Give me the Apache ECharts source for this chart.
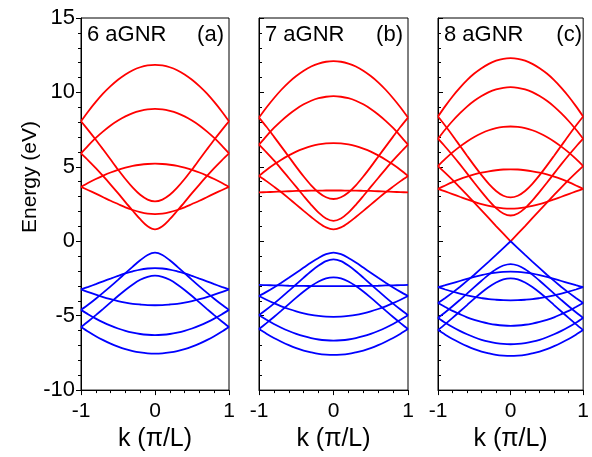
<!DOCTYPE html>
<html>
<head>
<meta charset="utf-8">
<script src="https://cdn.jsdelivr.net/npm/echarts@6/dist/echarts.min.js"></script>
<style>html,body{margin:0;padding:0;background:#fff;}#c{width:592px;height:457px;}</style>
</head>
<body>
<div id="c"></div>
<script>
// sample points along k (units of pi/L)
const K = [-1,-0.9,-0.8,-0.7,-0.6,-0.5,-0.4,-0.3,-0.2,-0.1,0,0.1,0.2,0.3,0.4,0.5,0.6,0.7,0.8,0.9,1];
const xTickLabels = [-1, 0, 1];
const yTickLabels = [-10, -5, 0, 5, 10, 15];
const panelNames = ['6 aGNR', '7 aGNR', '8 aGNR'];
const panelTags = ['(a)', '(b)', '(c)'];
const xName = 'k (\u03c0/L)';
const yName = 'Energy (eV)';

// (a) 6 aGNR
const aR1 = [8.06,8.74,9.36,9.93,10.42,10.85,11.21,11.49,11.69,11.81,11.85,11.81,11.69,11.49,11.21,10.85,10.42,9.93,9.36,8.74,8.06];
const aR2 = [5.90,6.44,6.94,7.38,7.78,8.11,8.39,8.61,8.76,8.86,8.89,8.86,8.76,8.61,8.39,8.11,7.78,7.38,6.94,6.44,5.90];
const aR3 = [3.65,3.93,4.18,4.41,4.62,4.80,4.94,5.06,5.14,5.19,5.21,5.19,5.14,5.06,4.94,4.80,4.62,4.41,4.18,3.93,3.65];
const aR4 = [3.65,3.43,3.20,2.96,2.72,2.50,2.28,2.10,1.95,1.85,1.82,1.85,1.95,2.10,2.28,2.50,2.72,2.96,3.20,3.43,3.65];
const aR5 = [5.90,5.42,4.91,4.37,3.81,3.23,2.63,2.05,1.48,1.01,0.80,1.01,1.48,2.05,2.63,3.23,3.81,4.37,4.91,5.42,5.90];
const aR6 = [8.06,7.45,6.82,6.16,5.49,4.82,4.18,3.60,3.12,2.80,2.68,2.80,3.12,3.60,4.18,4.82,5.49,6.16,6.82,7.45,8.06];
const aB1 = [-5.76,-6.08,-6.38,-6.64,-6.88,-7.08,-7.25,-7.38,-7.47,-7.53,-7.55,-7.53,-7.47,-7.38,-7.25,-7.08,-6.88,-6.64,-6.38,-6.08,-5.76];
const aB2 = [-4.61,-4.92,-5.20,-5.45,-5.67,-5.86,-6.02,-6.14,-6.23,-6.28,-6.30,-6.28,-6.23,-6.14,-6.02,-5.86,-5.67,-5.45,-5.20,-4.92,-4.61];
const aB3 = [-3.23,-3.42,-3.59,-3.75,-3.89,-4.02,-4.12,-4.20,-4.25,-4.29,-4.30,-4.29,-4.25,-4.20,-4.12,-4.02,-3.89,-3.75,-3.59,-3.42,-3.23];
const aB4 = [-3.23,-3.06,-2.88,-2.69,-2.51,-2.33,-2.16,-2.02,-1.90,-1.83,-1.80,-1.83,-1.90,-2.02,-2.16,-2.33,-2.51,-2.69,-2.88,-3.06,-3.23];
const aB5 = [-4.61,-4.25,-3.86,-3.45,-3.03,-2.59,-2.14,-1.70,-1.28,-0.92,-0.76,-0.92,-1.28,-1.70,-2.14,-2.59,-3.03,-3.45,-3.86,-4.25,-4.61];
const aB6 = [-5.76,-5.37,-4.96,-4.54,-4.11,-3.68,-3.27,-2.90,-2.59,-2.39,-2.31,-2.39,-2.59,-2.90,-3.27,-3.68,-4.11,-4.54,-4.96,-5.37,-5.76];

// (b) 7 aGNR
const bR1 = [8.31,8.99,9.61,10.18,10.68,11.10,11.46,11.74,11.94,12.06,12.10,12.06,11.94,11.74,11.46,11.10,10.68,10.18,9.61,8.99,8.31];
const bR2 = [6.49,7.07,7.61,8.09,8.52,8.89,9.20,9.44,9.61,9.71,9.75,9.71,9.61,9.44,9.20,8.89,8.52,8.09,7.61,7.07,6.49];
const bR3 = [4.39,4.79,5.15,5.48,5.77,6.02,6.22,6.39,6.51,6.58,6.60,6.58,6.51,6.39,6.22,6.02,5.77,5.48,5.15,4.79,4.39];
const bR4 = [3.28,3.30,3.32,3.34,3.36,3.38,3.39,3.40,3.40,3.41,3.41,3.41,3.40,3.40,3.39,3.38,3.36,3.34,3.32,3.30,3.28];
const bR5 = [4.39,4.04,3.67,3.29,2.88,2.46,2.04,1.63,1.24,0.93,0.80,0.93,1.24,1.63,2.04,2.46,2.88,3.29,3.67,4.04,4.39];
const bR6 = [6.49,5.97,5.43,4.85,4.25,3.65,3.04,2.45,1.92,1.53,1.37,1.53,1.92,2.45,3.04,3.65,4.25,4.85,5.43,5.97,6.49];
const bR7 = [8.31,7.69,7.03,6.36,5.68,5.00,4.35,3.76,3.28,2.96,2.84,2.96,3.28,3.76,4.35,5.00,5.68,6.36,7.03,7.69,8.31];
const bB1 = [-5.90,-6.21,-6.50,-6.75,-6.98,-7.18,-7.34,-7.46,-7.56,-7.61,-7.63,-7.61,-7.56,-7.46,-7.34,-7.18,-6.98,-6.75,-6.50,-6.21,-5.90];
const bB2 = [-4.97,-5.27,-5.56,-5.81,-6.03,-6.22,-6.38,-6.51,-6.60,-6.65,-6.67,-6.65,-6.60,-6.51,-6.38,-6.22,-6.03,-5.81,-5.56,-5.27,-4.97];
const bB3 = [-3.68,-3.93,-4.16,-4.37,-4.55,-4.71,-4.84,-4.95,-5.02,-5.07,-5.08,-5.07,-5.02,-4.95,-4.84,-4.71,-4.55,-4.37,-4.16,-3.93,-3.68];
const bB4 = [-2.93,-2.95,-2.96,-2.97,-2.99,-3.00,-3.00,-3.01,-3.02,-3.02,-3.02,-3.02,-3.02,-3.01,-3.00,-3.00,-2.99,-2.97,-2.96,-2.95,-2.93];
const bB5 = [-3.68,-3.40,-3.10,-2.78,-2.45,-2.11,-1.77,-1.43,-1.12,-0.87,-0.76,-0.87,-1.12,-1.43,-1.77,-2.11,-2.45,-2.78,-3.10,-3.40,-3.68];
const bB6 = [-4.97,-4.59,-4.19,-3.77,-3.33,-2.89,-2.44,-2.01,-1.63,-1.33,-1.22,-1.33,-1.63,-2.01,-2.44,-2.89,-3.33,-3.77,-4.19,-4.59,-4.97];
const bB7 = [-5.90,-5.50,-5.09,-4.66,-4.22,-3.79,-3.38,-3.01,-2.70,-2.49,-2.42,-2.49,-2.70,-3.01,-3.38,-3.79,-4.22,-4.66,-5.09,-5.50,-5.90];

// (c) 8 aGNR
const cR1 = [8.38,9.08,9.73,10.31,10.83,11.27,11.63,11.92,12.13,12.26,12.30,12.26,12.13,11.92,11.63,11.27,10.83,10.31,9.73,9.08,8.38];
const cR2 = [6.89,7.51,8.08,8.59,9.05,9.44,9.76,10.02,10.20,10.31,10.35,10.31,10.20,10.02,9.76,9.44,9.05,8.59,8.08,7.51,6.89];
const cR3 = [5.05,5.53,5.97,6.36,6.71,7.01,7.26,7.46,7.60,7.68,7.71,7.68,7.60,7.46,7.26,7.01,6.71,6.36,5.97,5.53,5.05];
const cR4 = [3.52,3.75,3.97,4.17,4.34,4.49,4.61,4.70,4.77,4.82,4.83,4.82,4.77,4.70,4.61,4.49,4.34,4.17,3.97,3.75,3.52];
const cR5 = [3.52,3.35,3.17,2.99,2.82,2.65,2.50,2.37,2.27,2.21,2.19,2.21,2.27,2.37,2.50,2.65,2.82,2.99,3.17,3.35,3.52];
const cR6 = [5.05,4.59,4.12,3.62,3.11,2.59,2.07,1.55,1.02,0.51,0,0.51,1.02,1.55,2.07,2.59,3.11,3.62,4.12,4.59,5.05];
const cR7 = [6.89,6.35,5.78,5.18,4.56,3.93,3.32,2.74,2.23,1.87,1.73,1.87,2.23,2.74,3.32,3.93,4.56,5.18,5.78,6.35,6.89];
const cR8 = [8.38,7.76,7.11,6.43,5.75,5.08,4.44,3.86,3.38,3.06,2.95,3.06,3.38,3.86,4.44,5.08,5.75,6.43,7.11,7.76,8.38];
const cB1 = [-5.97,-6.28,-6.57,-6.82,-7.05,-7.25,-7.41,-7.53,-7.63,-7.68,-7.70,-7.68,-7.63,-7.53,-7.41,-7.25,-7.05,-6.82,-6.57,-6.28,-5.97];
const cB2 = [-5.15,-5.47,-5.76,-6.02,-6.25,-6.45,-6.62,-6.75,-6.84,-6.90,-6.92,-6.90,-6.84,-6.75,-6.62,-6.45,-6.25,-6.02,-5.76,-5.47,-5.15];
const cB3 = [-4.15,-4.42,-4.68,-4.90,-5.11,-5.28,-5.42,-5.53,-5.61,-5.66,-5.68,-5.66,-5.61,-5.53,-5.42,-5.28,-5.11,-4.90,-4.68,-4.42,-4.15];
const cB4 = [-3.08,-3.24,-3.39,-3.52,-3.64,-3.74,-3.82,-3.89,-3.93,-3.96,-3.97,-3.96,-3.93,-3.89,-3.82,-3.74,-3.64,-3.52,-3.39,-3.24,-3.08];
const cB5 = [-3.08,-2.95,-2.81,-2.67,-2.53,-2.40,-2.28,-2.18,-2.11,-2.06,-2.04,-2.06,-2.11,-2.18,-2.28,-2.40,-2.53,-2.67,-2.81,-2.95,-3.08];
const cB6 = [-4.15,-3.81,-3.45,-3.07,-2.66,-2.25,-1.81,-1.37,-0.92,-0.46,0,-0.46,-0.92,-1.37,-1.81,-2.25,-2.66,-3.07,-3.45,-3.81,-4.15];
const cB7 = [-5.15,-4.77,-4.37,-3.95,-3.52,-3.08,-2.65,-2.24,-1.88,-1.63,-1.53,-1.63,-1.88,-2.24,-2.65,-3.08,-3.52,-3.95,-4.37,-4.77,-5.15];
const cB8 = [-5.97,-5.57,-5.15,-4.72,-4.29,-3.85,-3.44,-3.07,-2.77,-2.56,-2.49,-2.56,-2.77,-3.07,-3.44,-3.85,-4.29,-4.72,-5.15,-5.57,-5.97];

const condBands = [[aR1,aR2,aR3,aR4,aR5,aR6],[bR1,bR2,bR3,bR4,bR5,bR6,bR7],[cR1,cR2,cR3,cR4,cR5,cR6,cR7,cR8]];
const valBands = [[aB1,aB2,aB3,aB4,aB5,aB6],[bB1,bB2,bB3,bB4,bB5,bB6,bB7],[cB1,cB2,cB3,cB4,cB5,cB6,cB7,cB8]];
const vBands = [cR6, cB6]; // bands with a sharp crossing at k = 0

const FONT = '"Liberation Sans", Arial, sans-serif';
const RED = '#ff0000', BLUE = '#0000ff';

const gridLeft = [81, 259, 438];
const gridWidth = [148, 149, 149];

const grids = [], xAxes = [], yAxes = [], series = [], graphics = [];
for (let i = 0; i < 3; i++) {
  grids.push({left: gridLeft[i], top: 18, width: gridWidth[i], height: 376,
    show: true, borderColor: '#000', borderWidth: 1, backgroundColor: 'transparent'});
  xAxes.push({
    type: 'value', gridIndex: i,
    min: xTickLabels[0], max: xTickLabels[xTickLabels.length - 1], interval: 1,
    axisLine: {show: true, onZero: false, lineStyle: {color: '#000', width: 1}},
    axisTick: {show: true, inside: false, length: 5, lineStyle: {color: '#000', width: 1}},
    minorTick: {show: true, splitNumber: 5, length: 3, lineStyle: {color: '#000', width: 1}},
    splitLine: {show: false}, minorSplitLine: {show: false},
    axisLabel: {fontSize: 21, color: '#000', fontFamily: FONT, margin: 11},
    name: xName, nameLocation: 'middle', nameGap: 35,
    nameTextStyle: {fontSize: 25, color: '#000', fontFamily: FONT}
  });
  yAxes.push({
    type: 'value', gridIndex: i,
    min: yTickLabels[0], max: yTickLabels[yTickLabels.length - 1], interval: 5,
    axisLine: {show: true, onZero: false, lineStyle: {color: '#000', width: 1}},
    axisTick: {show: true, inside: i !== 0, length: 5, lineStyle: {color: '#000', width: 1}},
    minorTick: {show: true, splitNumber: 5, length: 3, lineStyle: {color: '#000', width: 1}},
    splitLine: {show: false}, minorSplitLine: {show: false},
    axisLabel: {show: i === 0, fontSize: 22, color: '#000', fontFamily: FONT, margin: 6}
  });
  const addBand = (arr, color) => {
    series.push({
      type: 'line', xAxisIndex: i, yAxisIndex: i,
      data: K.map((k, j) => [k, arr[j]]),
      showSymbol: false, symbol: 'none',
      smooth: vBands.includes(arr) ? false : 0.3,
      lineStyle: {color: color, width: 1.8},
      silent: true, animation: false
    });
  };
  condBands[i].forEach(b => addBand(b, RED));
  valBands[i].forEach(b => addBand(b, BLUE));

  graphics.push({type: 'text', x: gridLeft[i] + 6, y: 34.5,
    style: {text: panelNames[i], font: '22px ' + FONT, fill: '#000', align: 'left', verticalAlign: 'middle', textAlign: 'left', textVerticalAlign: 'middle'}});
  graphics.push({type: 'text', x: gridLeft[i] + gridWidth[i] - 5, y: 34.5,
    style: {text: panelTags[i], font: '22px ' + FONT, fill: '#000', align: 'right', verticalAlign: 'middle', textAlign: 'right', textVerticalAlign: 'middle'}});
}
graphics.push({type: 'text', x: 30, y: 177, rotation: Math.PI / 2,
  style: {text: yName, font: '21px ' + FONT, fill: '#000', align: 'center', verticalAlign: 'middle', textAlign: 'center', textVerticalAlign: 'middle'}});

const chart = echarts.init(document.getElementById('c'), null, {renderer: 'canvas'});
chart.setOption({
  animation: false,
  backgroundColor: '#fff',
  grid: grids, xAxis: xAxes, yAxis: yAxes, series: series,
  graphic: graphics
});
</script>
</body>
</html>
